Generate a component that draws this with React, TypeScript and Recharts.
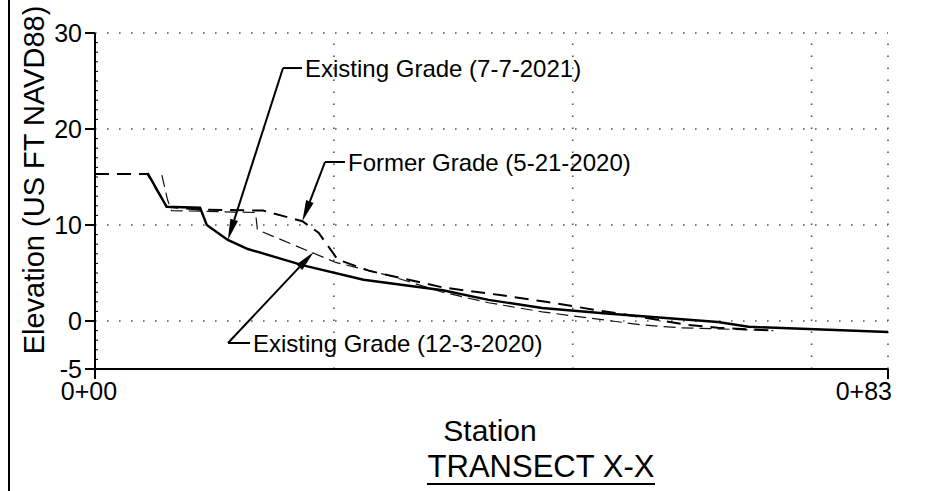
import React from 'react';
import { LineChart, Line, XAxis, YAxis, ReferenceLine } from 'recharts';

const FONT = '"Liberation Sans", Arial, Helvetica, sans-serif';

// Existing Grade (7-7-2021) - solid
const grade2021Station = [5.5, 7.5, 11.0, 11.7, 13.9, 16.0, 21.8, 28.1, 36.4, 41.2, 46.8, 53.2, 65.2, 68.4, 83.0];
const grade2021Elev = [15.4, 11.9, 11.8, 10.0, 8.45, 7.5, 5.8, 4.3, 3.2, 2.2, 1.35, 0.8, -0.1, -0.6, -1.15];

// Former Grade (5-21-2020) - heavy dashed
const former2020Station = [0, 5.5, 7.5, 11.0, 17.6, 21.7, 23.4, 25.4, 28.8, 36.4, 42.4, 47.2, 52.4, 57.2, 62.0, 65.2, 71.0];
const former2020Elev = [15.3, 15.3, 11.9, 11.6, 11.5, 10.4, 9.2, 6.4, 5.2, 3.5, 2.7, 2.0, 1.15, 0.4, -0.4, -0.7, -1.0];

// Existing Grade (12-3-2020) - light dashed
const grade2020Station = [7.0, 7.6, 8.0, 16.8, 17.0, 25.2, 30.9, 36.4, 41.2, 46.8, 57.2, 61.1, 71.0];
const grade2020Elev = [15.2, 12.6, 11.5, 11.3, 9.5, 6.1, 4.7, 3.0, 1.9, 0.95, -0.4, -0.7, -1.0];

const xTicks = [0, 83];
const xTickLabels = ['0+00', '0+83'];
const xGridValues = [25, 50, 75, 83];
const yMajorTicks = [-5, 0, 10, 20, 30];
const yGridValues = [0, 10, 20, 30];
const yAllTicks = Array.from({ length: 36 }, (_, i) => i - 5);

const toData = (st: number[], el: number[]) => st.map((x, i) => ({ x, y: el[i] }));
const data2021 = toData(grade2021Station, grade2021Elev);
const dataFormer = toData(former2020Station, former2020Elev);
const data2020 = toData(grade2020Station, grade2020Elev);

// annotations: [tip, elbow] in data coordinates
const annotations = [
  { text: 'Existing Grade (7-7-2021)', tip: { x: 13.9, y: 8.45 }, elbow: { x: 19.68, y: 26.35 }, h: 19 },
  { text: 'Former Grade (5-21-2020)', tip: { x: 21.7, y: 10.4 }, elbow: { x: 24.07, y: 16.56 }, h: 20 },
  { text: 'Existing Grade (12-3-2020)', tip: { x: 22.9, y: 7.2 }, elbow: { x: 13.92, y: -2.29 }, h: 22 },
];

const TICK_FONT = 25;

const YTick = (props: any) => {
  const { x, y, payload } = props;
  const v = payload.value;
  if (yMajorTicks.includes(v)) {
    return (
      <g>
        <line x1={x - 10} y1={y} x2={x} y2={y} stroke="#000" strokeWidth={2} />
        <text x={x - 13} y={y} dy="0.355em" textAnchor="end" fontSize={TICK_FONT} fontFamily={FONT} fill="#000">
          {v}
        </text>
      </g>
    );
  }
  return <line x1={x} y1={y} x2={x + 3} y2={y} stroke="#000" strokeWidth={1} />;
};

const XTick = (props: any) => {
  const { x, y, payload } = props;
  const idx = xTicks.indexOf(payload.value);
  const isEnd = idx === xTicks.length - 1;
  return (
    <text
      x={isEnd ? x + 4 : x - 6}
      y={y + 1}
      dy="0.71em"
      textAnchor={isEnd ? 'end' : 'middle'}
      fontSize={TICK_FONT}
      fontFamily={FONT}
      fill="#000"
    >
      {xTickLabels[idx]}
    </text>
  );
};

const makeLeader = (text: string, hLen: number) => (props: any) => {
  const { x1, y1, x2, y2 } = props;
  const dx = x1 - x2;
  const dy = y1 - y2;
  const len = Math.hypot(dx, dy) || 1;
  const ux = dx / len;
  const uy = dy / len;
  const ah = 21;
  const aw = 4;
  const bx = x1 - ux * ah;
  const by = y1 - uy * ah;
  const px = -uy;
  const py = ux;
  return (
    <g>
      <line x1={x2} y1={y2} x2={bx} y2={by} stroke="#000" strokeWidth={2} />
      <polygon
        points={`${x1},${y1} ${bx + px * aw},${by + py * aw} ${bx - px * aw},${by - py * aw}`}
        fill="#000"
      />
      <line x1={x2} y1={y2} x2={x2 + hLen} y2={y2} stroke="#000" strokeWidth={2} />
      <text x={x2 + hLen + 3} y={y2} dy="0.355em" fontSize={24} fontFamily={FONT} fill="#000">
        {text}
      </text>
    </g>
  );
};

export default function App() {
  return (
    <div style={{ position: 'absolute', left: 0, top: 0, width: 926, height: 491, background: '#fff' }}>
      <div style={{ position: 'absolute', left: 8, top: 0, width: 2, height: 491, background: '#000' }} />
      <LineChart
        width={926}
        height={491}
        margin={{ top: 33, right: 38, bottom: 92, left: 35 }}
        style={{ position: 'absolute', left: 0, top: 0 }}
      >
        <XAxis
          type="number"
          dataKey="x"
          domain={[0, 83]}
          ticks={xTicks}
          interval={0}
          height={30}
          tickSize={10}
          tickMargin={2}
          axisLine={{ stroke: '#000', strokeWidth: 2 }}
          tickLine={{ stroke: '#000', strokeWidth: 2 }}
          tick={<XTick />}
          allowDataOverflow
        />
        <YAxis
          type="number"
          dataKey="y"
          domain={[-5, 30]}
          ticks={yAllTicks}
          interval={0}
          width={60}
          tickSize={0}
          tickMargin={0}
          axisLine={{ stroke: '#000', strokeWidth: 2 }}
          tickLine={false}
          tick={<YTick />}
          allowDataOverflow
        />
        {yGridValues.map((v) => (
          <ReferenceLine key={`gy${v}`} y={v} stroke="#555" strokeWidth={1.6} strokeDasharray="1.6 10.4" />
        ))}
        {xGridValues.map((v) => (
          <ReferenceLine key={`gx${v}`} x={v} stroke="#555" strokeWidth={1.6} strokeDasharray="1.6 10.4" />
        ))}
        <Line
          data={data2020}
          dataKey="y"
          type="linear"
          stroke="#111"
          strokeWidth={1.2}
          strokeDasharray="12 6"
          dot={false}
          activeDot={false}
          isAnimationActive={false}
        />
        <Line
          data={dataFormer}
          dataKey="y"
          type="linear"
          stroke="#000"
          strokeWidth={2}
          strokeDasharray="14 8"
          dot={false}
          activeDot={false}
          isAnimationActive={false}
        />
        <Line
          data={data2021}
          dataKey="y"
          type="linear"
          stroke="#000"
          strokeWidth={2.4}
          dot={false}
          activeDot={false}
          isAnimationActive={false}
        />
        {annotations.map((a) => (
          <ReferenceLine
            key={a.text}
            segment={[a.tip, a.elbow]}
            ifOverflow="visible"
            shape={makeLeader(a.text, a.h)}
          />
        ))}
      </LineChart>
      <svg
        width={926}
        height={491}
        style={{ position: 'absolute', left: 0, top: 0, pointerEvents: 'none' }}
      >
        <text
          transform="translate(44,180) rotate(-90)"
          textAnchor="middle"
          fontSize={29}
          fontFamily={FONT}
          fill="#000"
        >
          Elevation (US FT NAVD88)
        </text>
        <text x={490} y={441} textAnchor="middle" fontSize={30} fontFamily={FONT} fill="#000">
          Station
        </text>
        <text x={541} y={477} textAnchor="middle" fontSize={31} fontFamily={FONT} fill="#000">
          TRANSECT X-X
        </text>
        <line x1={427} y1={484} x2={655} y2={484} stroke="#000" strokeWidth={2} />
      </svg>
    </div>
  );
}
